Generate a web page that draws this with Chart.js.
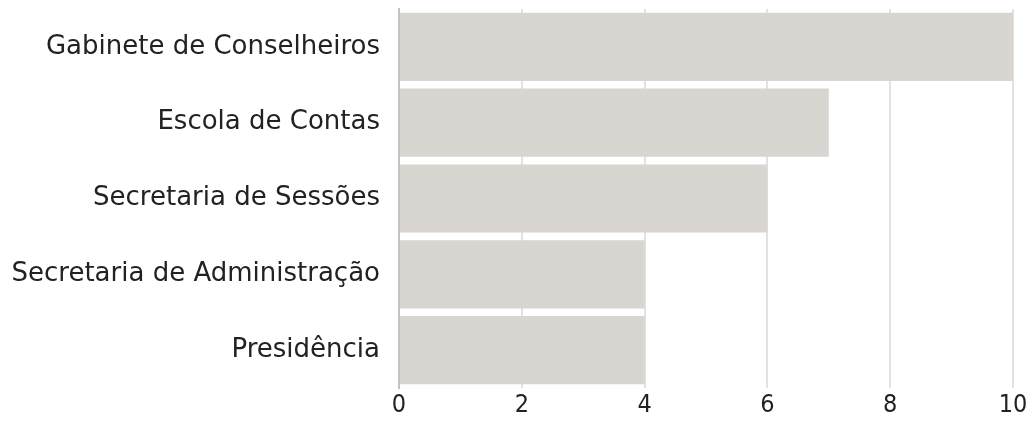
<!DOCTYPE html>
<html>
<head>
<meta charset="utf-8">
<script src="https://cdn.jsdelivr.net/npm/chart.js@4"></script>
<style>
  html, body { margin: 0; padding: 0; background: #fff; }
  #wrap { width: 1028px; height: 421px; }
</style>
</head>
<body>
<div id="wrap"><canvas id="myChart"></canvas></div>
<script>
const categories = ["Gabinete de Conselheiros", "Escola de Contas", "Secretaria de Sessões", "Secretaria de Administração", "Presidência"];
const values = [10, 7, 6, 4, 4];
const xTicks = [0, 2, 4, 6, 8, 10];

const ctx = document.getElementById('myChart');

new Chart(ctx, {
  type: 'bar',
  data: {
    labels: categories,
    datasets: [{
      data: values,
      backgroundColor: '#d9d6d2',
      borderWidth: 0,
      barPercentage: 0.9,
      categoryPercentage: 1
    }]
  },
  options: {
    indexAxis: 'y',
    responsive: true,
    maintainAspectRatio: false,
    animation: false,
    layout: { padding: { top: 9, right: 0, bottom: 0, left: 0 } },
    plugins: { legend: { display: false }, tooltip: { enabled: false } },
    scales: {
      x: {
        min: 0,
        max: 10,
        afterBuildTicks: (axis) => { axis.ticks = xTicks.map(v => ({ value: v })); },
        afterFit: (axis) => { axis.height = 33; axis.paddingLeft = 0; axis.paddingRight = 15; },
        grid: { color: '#e2e2e2', lineWidth: 2, drawTicks: false },
        border: { display: false },
        ticks: { color: '#222', font: { family: "'Liberation Sans Narrow', 'DejaVu Sans Condensed', sans-serif", size: 25, lineHeight: 1 }, padding: 5 }
      },
      y: {
        afterFit: (axis) => { axis.width = 399; axis.paddingTop = 0; axis.paddingBottom = 0; },
        grid: { display: false, drawTicks: false },
        border: { color: '#c2c2c2', width: 2 },
        ticks: { color: '#222', font: { family: "'DejaVu Sans'", size: 26 }, padding: 19 }
      }
    }
  }
});
</script>
</body>
</html>
